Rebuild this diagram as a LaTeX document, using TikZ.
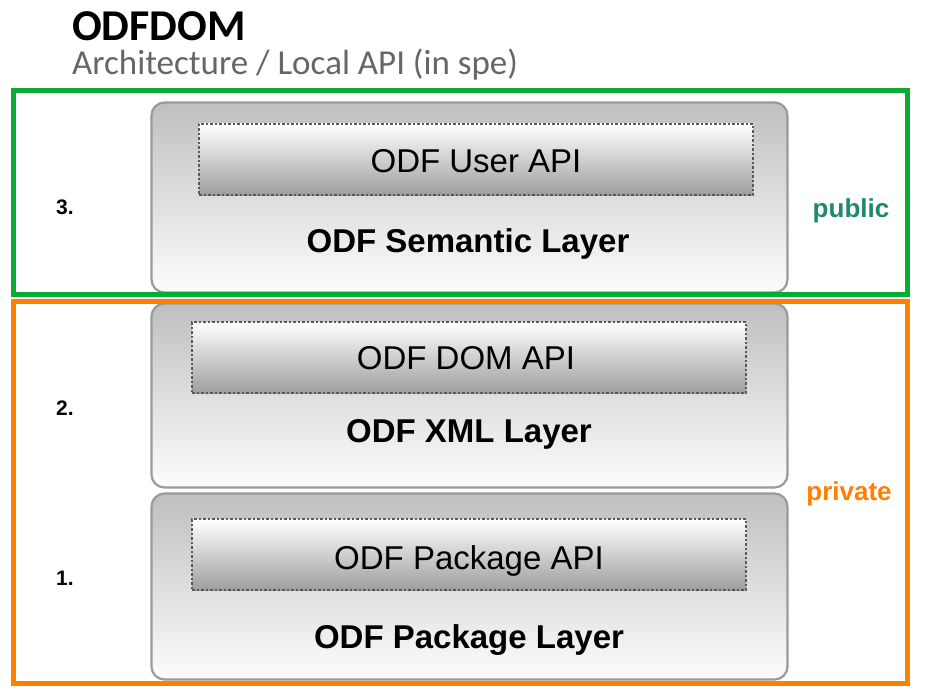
\documentclass[tikz,border=0pt]{standalone}
\usepackage{fontspec}
\setmainfont{Liberation Sans}
\newfontfamily\titlefont{Carlito}
\definecolor{pubgreen}{HTML}{0AAA35}
\definecolor{pubtext}{HTML}{1E8A6A}
\definecolor{privorange}{HTML}{FF8000}
\definecolor{layerborder}{HTML}{9A9A9A}
\begin{document}
\begin{tikzpicture}[x=1pt,y=-1pt,
  layerbox/.style={draw=layerborder, line width=2.2pt, rounded corners=13pt,
    top color=black!25, bottom color=black!1, inner sep=0pt},
  apibox/.style={draw=black!65, line width=1.1pt, dash pattern=on 2.5pt off 2pt,
    top color=white, bottom color=black!38, inner sep=0pt},
  apilabel/.style={anchor=base, font=\fontsize{33}{33}\selectfont, inner sep=0pt},
  layerlabel/.style={anchor=base, font=\bfseries\fontsize{33}{33}\selectfont, inner sep=0pt},
  numlabel/.style={anchor=base, font=\bfseries\fontsize{21}{21}\selectfont, inner sep=0pt},
  sidelabel/.style={anchor=base, font=\bfseries\fontsize{26}{26}\selectfont, inner sep=0pt}]
\useasboundingbox (0,0) rectangle (931,698);
\fill[white] (0,0) rectangle (931,698);
% title
\node[anchor=base west, inner sep=0pt, font=\titlefont\bfseries\fontsize{44}{44}\selectfont] (title) at (72,41) {ODFDOM};
\node[anchor=base west, inner sep=0pt, text=black!60, font=\titlefont\fontsize{35}{35}\selectfont] (subtitle) at (72,75) {Architecture / Local API (in spe)};
% layer boxes
\node[layerbox, minimum width=636pt, minimum height=190pt] (sem) at (469.5,197.5) {};
\node[layerbox, minimum width=636pt, minimum height=184pt] (xml) at (469.5,395.5) {};
\node[layerbox, minimum width=636pt, minimum height=186pt] (pkg) at (469.5,586.5) {};
% api boxes
\node[apibox, minimum width=554pt, minimum height=71pt] (userapi) at (476,159.5) {};
\node[apibox, minimum width=554pt, minimum height=71pt] (domapi) at (469,357.5) {};
\node[apibox, minimum width=554pt, minimum height=71pt] (pkgapi) at (469,554.5) {};
% labels
\node[apilabel] (tuser) at (476,172) {ODF User API};
\node[apilabel] (tdom) at (466,369) {ODF DOM API};
\node[apilabel] (tpkgapi) at (469,569) {ODF Package API};
\node[layerlabel] (tsem) at (468,252) {ODF Semantic Layer};
\node[layerlabel] (txml) at (469,442) {ODF XML Layer};
\node[layerlabel] (tpkg) at (469,648) {ODF Package Layer};
\node[numlabel] (n3) at (65,214) {3.};
\node[numlabel] (n2) at (65,415) {2.};
\node[numlabel] (n1) at (65,585) {1.};
% frames
\draw[pubgreen, line width=5pt] (13.5,90.5) rectangle (907.5,294.5);
\draw[privorange, line width=5pt] (13.5,301) rectangle (907,683.5);
\node[sidelabel, text=pubtext] (public) at (851,217) {public};
\node[sidelabel, text=privorange] (private) at (849,500) {private};
\end{tikzpicture}
\end{document}
